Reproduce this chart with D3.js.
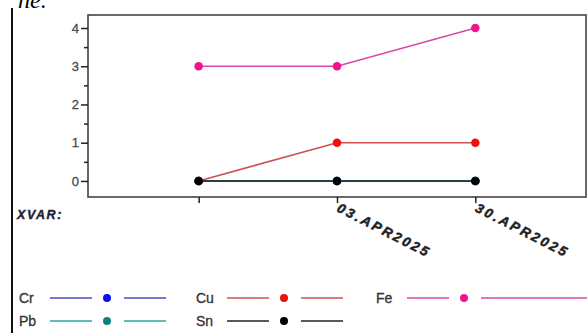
<!DOCTYPE html>
<html><head><meta charset="utf-8">
<script src="https://cdn.jsdelivr.net/npm/d3@7"></script>
<style>body{margin:0;background:#fff;}svg{display:block;}</style>
</head><body>
<svg id="c" width="587" height="333"></svg>
<script>
const categories = ["", "03.APR2025", "30.APR2025"];
const yTicks = [0, 1, 2, 3, 4];
const seriesNames = ["Cr", "Pb", "Cu", "Sn", "Fe"];
const crValues = [0, 0, 0];
const pbValues = [0, 0, 0];
const cuValues = [0, 1, 1];
const snValues = [0, 0, 0];
const feValues = [3, 3, 4];

const lineColors = {Cr:"#4a4ac8", Pb:"#2aa8a0", Cu:"#d05050", Sn:"#222", Fe:"#d948a8"};
const dotColors = {Cr:"#0a10f0", Pb:"#108080", Cu:"#f01010", Sn:"#000", Fe:"#f0148c"};
const values = {Cr:crValues, Pb:pbValues, Cu:cuValues, Sn:snValues, Fe:feValues};

const svg = d3.select("#c");
const W=587, L=88, R=586, T=15, B=197;
const x = d3.scalePoint().domain(d3.range(categories.length)).range([L,R]).padding(0.8);
const y = d3.scaleLinear().domain([-0.42, 4.34]).range([B,T]);

// cut-off text at top (partially visible in the reference)
svg.append("text").attr("x",18).attr("y",8).attr("font-family","Liberation Serif").attr("font-style","italic").attr("font-size",24).attr("fill","#000").text("ne.");
// left vertical rule
svg.append("line").attr("x1",12).attr("x2",12).attr("y1",8).attr("y2",333).attr("stroke","#111").attr("stroke-width",2);

// frame
svg.append("rect").attr("x",L).attr("y",T).attr("width",R-L).attr("height",B-T).attr("fill","none").attr("stroke","#444").attr("stroke-width",1.6);

// y axis
const yAxis = d3.axisLeft(y).tickValues(yTicks).tickSize(7).tickPadding(2).tickFormat(d3.format("d"));
const gy = svg.append("g").attr("transform",`translate(${L},0)`).call(yAxis);
gy.select(".domain").remove();
gy.selectAll("line").attr("stroke","#222").attr("stroke-width",1.5);
gy.selectAll("text").attr("font-family","Liberation Sans").attr("font-size",13).attr("fill","#4a4a4a").attr("stroke","#4a4a4a").attr("stroke-width",0.3);
const gym = svg.append("g").attr("transform",`translate(${L},0)`).call(d3.axisLeft(y).tickValues([0.5,1.5,2.5,3.5]).tickSize(4).tickFormat(""));
gym.select(".domain").remove();
gym.selectAll("line").attr("stroke","#222").attr("stroke-width",1.5);

// x axis
const gx = svg.append("g").attr("transform",`translate(0,${B})`).call(d3.axisBottom(x).tickSize(6).tickFormat(""));
gx.select(".domain").remove();
gx.selectAll("line").attr("stroke","#222").attr("stroke-width",1.5);
categories.forEach((c,i)=>{
  if(!c) return;
  svg.append("text").attr("transform",`translate(${x(i)-1},${B+14}) rotate(27)`)
    .attr("font-family","Liberation Sans").attr("font-weight","bold").attr("font-style","italic")
    .attr("font-size",13.5).attr("letter-spacing","2.6px").attr("fill","#222")
    .attr("stroke","#222").attr("stroke-width",0.5).text(c);
});
svg.append("text").attr("x",17).attr("y",219).attr("font-family","Liberation Sans").attr("font-weight","bold").attr("font-style","italic").attr("font-size",12.5).attr("letter-spacing","1.6px").attr("fill","#223").attr("stroke","#223").attr("stroke-width",0.4).text("XVAR:");

// series
const line = d3.line().x((d,i)=>x(i)).y(d=>y(d));
seriesNames.forEach(n=>{
  svg.append("path").datum(values[n]).attr("d",line).attr("fill","none").attr("stroke",lineColors[n]).attr("stroke-width",1.6);
});
seriesNames.forEach(n=>{
  svg.append("g").selectAll("circle").data(values[n]).join("circle")
    .attr("cx",(d,i)=>x(i)).attr("cy",d=>y(d)).attr("r",4.3).attr("fill",dotColors[n]);
});

// legend
const legendItems = [
  {n:"Cr", col:0, row:0},{n:"Cu", col:1, row:0},{n:"Fe", col:2, row:0},
  {n:"Pb", col:0, row:1},{n:"Sn", col:1, row:1}
];
const colX = [19, 196, 376], rowY = [298, 321];
legendItems.forEach(it=>{
  const x0 = colX[it.col], yy = rowY[it.row];
  const g = svg.append("g");
  g.append("text").attr("x",x0).attr("y",yy+5).attr("font-family","Liberation Sans").attr("font-size",14).attr("fill","#333").attr("stroke","#333").attr("stroke-width",0.3).text(it.n);
  g.append("line").attr("x1",x0+31).attr("x2",x0+73).attr("y1",yy).attr("y2",yy).attr("stroke",lineColors[it.n]).attr("stroke-width",1.6);
  g.append("circle").attr("cx",x0+88).attr("cy",yy).attr("r",4).attr("fill",dotColors[it.n]);
  g.append("line").attr("x1",x0+105).attr("x2",it.col===2 ? W : x0+147).attr("y1",yy).attr("y2",yy).attr("stroke",lineColors[it.n]).attr("stroke-width",1.6);
});
</script>
</body></html>
